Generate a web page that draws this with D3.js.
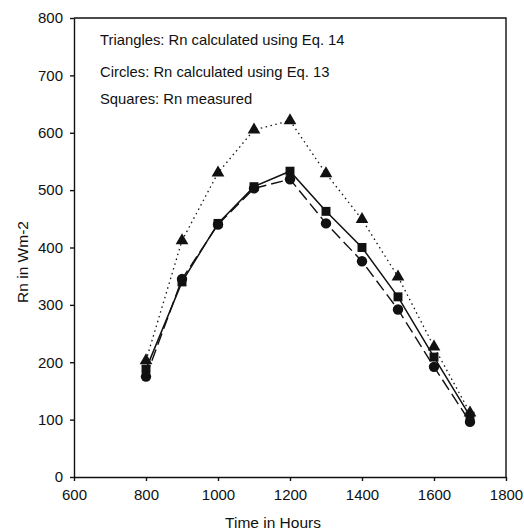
<!DOCTYPE html>
<html>
<head>
<meta charset="utf-8">
<script src="https://cdn.jsdelivr.net/npm/d3@7"></script>
<style>
  body { margin: 0; background: #fff; }
  svg { font-family: "Liberation Sans", Arial, sans-serif; }
  .axis path, .axis line { stroke: #111; stroke-width: 1.4; }
  .axis text { font-size: 15px; fill: #111; }
</style>
</head>
<body>
<div id="chart"></div>
<script>
// data
var hours = [800, 900, 1000, 1100, 1200, 1300, 1400, 1500, 1600, 1700];
var triangles = [203, 412, 530, 605, 621, 529, 449, 349, 227, 112];
var circles = [175, 345, 440, 503, 519, 442, 376, 292, 192, 96];
var squares = [188, 340, 442, 506, 533, 463, 400, 314, 209, 106];
var xTicks = [600, 800, 1000, 1200, 1400, 1600, 1800];
var yTicks = [0, 100, 200, 300, 400, 500, 600, 700, 800];
var notes = [
  'Triangles: Rn calculated using Eq. 14',
  'Circles: Rn calculated using Eq. 13',
  'Squares: Rn measured'
];

var fullWidth = 524, fullHeight = 531;
var margins = { top: 18, right: 18, bottom: 54, left: 74 };
var width = fullWidth - margins.left - margins.right;
var height = fullHeight - margins.top - margins.bottom;

var svg = d3.select('#chart').append('svg')
  .attr('width', fullWidth)
  .attr('height', fullHeight);

var g = svg.append('g')
  .attr('transform', `translate(${margins.left},${margins.top})`);

var x = d3.scaleLinear().domain([600, 1800]).range([0, width]);
var y = d3.scaleLinear().domain([0, 800]).range([height, 0]);

// frame (top and right)
g.append('path')
  .attr('d', `M0,0H${width}V${height}`)
  .attr('fill', 'none')
  .attr('stroke', '#111')
  .attr('stroke-width', 1.4);

g.append('g')
  .attr('class', 'axis')
  .attr('transform', `translate(0,${height})`)
  .call(d3.axisBottom(x).tickValues(xTicks).tickSizeInner(4).tickSizeOuter(0).tickPadding(8).tickFormat(d3.format('d')));

g.append('g')
  .attr('class', 'axis')
  .call(d3.axisLeft(y).tickValues(yTicks).tickSizeInner(4).tickSizeOuter(0).tickPadding(7).tickFormat(d3.format('d')));

// axis titles
svg.append('text')
  .attr('x', 273)
  .attr('y', 528)
  .attr('text-anchor', 'middle')
  .attr('font-size', 15.5)
  .attr('fill', '#111')
  .text('Time in Hours');

svg.append('text')
  .attr('transform', 'translate(28,262) rotate(-90)')
  .attr('text-anchor', 'middle')
  .attr('font-size', 15.5)
  .attr('fill', '#111')
  .text('Rn in Wm-2');

// legend notes
svg.selectAll('.note')
  .data(notes)
  .enter().append('text')
  .attr('class', 'note')
  .attr('x', 100)
  .attr('y', function(d, i) { return [45, 77, 104][i]; })
  .attr('font-size', 14.8)
  .attr('fill', '#111')
  .text(function(d) { return d; });

var line = d3.line()
  .x(function(d) { return x(d[0]); })
  .y(function(d) { return y(d[1]); });

function pairs(values) {
  return hours.map(function(h, i) { return [h, values[i]]; });
}

var series = [
  { values: triangles, dash: '1.5,3.5', width: 1.3, symbol: d3.symbolTriangle, size: 70 },
  { values: circles, dash: '12,5', width: 1.4, symbol: d3.symbolCircle, size: 85 },
  { values: squares, dash: null, width: 1.5, symbol: d3.symbolSquare, size: 80 }
];

series.forEach(function(s) {
  g.append('path')
    .datum(pairs(s.values))
    .attr('fill', 'none')
    .attr('stroke', '#111')
    .attr('stroke-width', s.width)
    .attr('stroke-dasharray', s.dash)
    .attr('d', line);

  g.selectAll(null)
    .data(pairs(s.values))
    .enter().append('path')
    .attr('transform', function(d) { return `translate(${x(d[0])},${y(d[1])})`; })
    .attr('d', d3.symbol().type(s.symbol).size(s.size))
    .attr('fill', '#111');
});
</script>
</body>
</html>
